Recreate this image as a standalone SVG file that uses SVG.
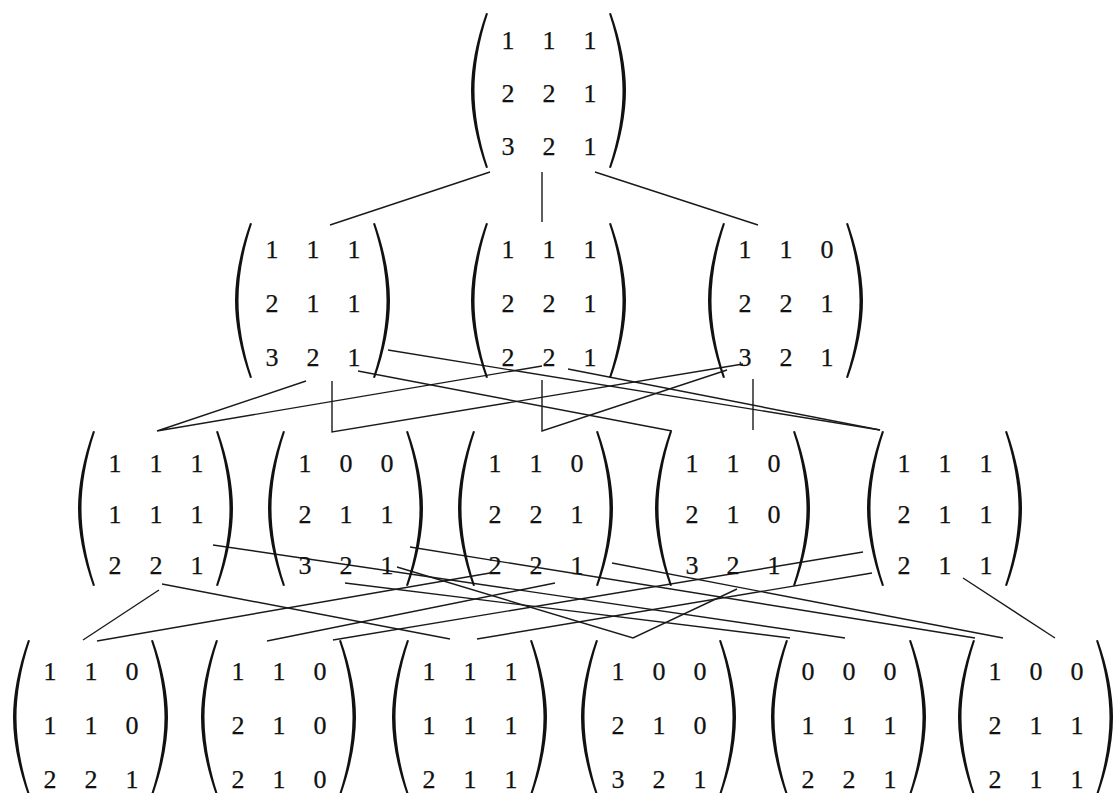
<svg xmlns="http://www.w3.org/2000/svg" width="1115" height="793" viewBox="0 0 1115 793">
<style>
text{font-family:"Liberation Serif","DejaVu Serif",serif;font-size:26px;fill:#111;stroke:#111;stroke-width:0.25;text-anchor:middle}
.par{fill:#111}
#connectors polyline,#connectors line{fill:none;stroke:#1a1a1a;stroke-width:1.4}
</style>
<defs>
<path id="lp" class="par" d="M15,0 C5,28 0,55 0,77.5 C0,100 5,127 15,155 L17,154.6 C7.8,127 3.5,100 3.5,77.5 C3.5,55 7.8,28 17,0.4 Z"/>
<path id="rp" class="par" d="M0,0 C10,28 15,55 15,77.5 C15,100 10,127 0,155 L-2,154.6 C7.2,127 11.5,100 11.5,77.5 C11.5,55 7.2,28 -2,0.4 Z"/>
</defs>
<rect width="1115" height="793" fill="#fff"/>
<g id="connectors">
<line x1="490" y1="172" x2="330" y2="225"/>
<line x1="542" y1="172" x2="542" y2="222"/>
<line x1="595" y1="172" x2="758" y2="225"/>
<polyline points="306,381 157,431 542,366"/>
<polyline points="332,381 332,432 743,364"/>
<polyline points="542,380 542,431 727,370"/>
<line x1="358" y1="371" x2="672" y2="431"/>
<line x1="753" y1="379" x2="753" y2="430"/>
<line x1="388" y1="350" x2="880" y2="430"/>
<line x1="568" y1="369" x2="880" y2="430"/>
<line x1="159" y1="590" x2="83" y2="640"/>
<line x1="97" y1="641" x2="490" y2="573"/>
<line x1="162" y1="584" x2="450" y2="639"/>
<line x1="213" y1="545" x2="845" y2="638"/>
<line x1="267" y1="641" x2="555" y2="583"/>
<line x1="333" y1="640" x2="863" y2="552"/>
<line x1="345" y1="583" x2="790" y2="638"/>
<polyline points="397,567 633,638 737,589"/>
<line x1="410" y1="547" x2="975" y2="638"/>
<line x1="612" y1="563" x2="1003" y2="638"/>
<line x1="477" y1="639" x2="872" y2="573"/>
<line x1="963" y1="578" x2="1055" y2="638"/>
</g>
<g id="m-top">
<use href="#lp" x="471" y="13"/><use href="#rp" x="611" y="13"/>
<text x="508" y="49">1</text><text x="549" y="49">1</text><text x="590" y="49">1</text>
<text x="508" y="102">2</text><text x="549" y="102">2</text><text x="590" y="102">1</text>
<text x="508" y="155">3</text><text x="549" y="155">2</text><text x="590" y="155">1</text>
</g>
<g id="m2a">
<use href="#lp" x="235" y="223"/><use href="#rp" x="375" y="223"/>
<text x="272" y="258">1</text><text x="313" y="258">1</text><text x="354" y="258">1</text>
<text x="272" y="312">2</text><text x="313" y="312">1</text><text x="354" y="312">1</text>
<text x="272" y="366">3</text><text x="313" y="366">2</text><text x="354" y="366">1</text>
</g>
<g id="m2b">
<use href="#lp" x="471" y="223"/><use href="#rp" x="611" y="223"/>
<text x="508" y="258">1</text><text x="549" y="258">1</text><text x="590" y="258">1</text>
<text x="508" y="312">2</text><text x="549" y="312">2</text><text x="590" y="312">1</text>
<text x="508" y="366">2</text><text x="549" y="366">2</text><text x="590" y="366">1</text>
</g>
<g id="m2c">
<use href="#lp" x="708" y="223"/><use href="#rp" x="848" y="223"/>
<text x="745" y="258">1</text><text x="786" y="258">1</text><text x="827" y="258">0</text>
<text x="745" y="312">2</text><text x="786" y="312">2</text><text x="827" y="312">1</text>
<text x="745" y="366">3</text><text x="786" y="366">2</text><text x="827" y="366">1</text>
</g>
<g id="m3a">
<use href="#lp" x="78" y="431"/><use href="#rp" x="218" y="431"/>
<text x="115" y="472">1</text><text x="156" y="472">1</text><text x="197" y="472">1</text>
<text x="115" y="523">1</text><text x="156" y="523">1</text><text x="197" y="523">1</text>
<text x="115" y="574">2</text><text x="156" y="574">2</text><text x="197" y="574">1</text>
</g>
<g id="m3b">
<use href="#lp" x="268" y="431"/><use href="#rp" x="408" y="431"/>
<text x="305" y="472">1</text><text x="346" y="472">0</text><text x="387" y="472">0</text>
<text x="305" y="523">2</text><text x="346" y="523">1</text><text x="387" y="523">1</text>
<text x="305" y="574">3</text><text x="346" y="574">2</text><text x="387" y="574">1</text>
</g>
<g id="m3c">
<use href="#lp" x="458" y="431"/><use href="#rp" x="598" y="431"/>
<text x="495" y="472">1</text><text x="536" y="472">1</text><text x="577" y="472">0</text>
<text x="495" y="523">2</text><text x="536" y="523">2</text><text x="577" y="523">1</text>
<text x="495" y="574">2</text><text x="536" y="574">2</text><text x="577" y="574">1</text>
</g>
<g id="m3d">
<use href="#lp" x="655" y="431"/><use href="#rp" x="795" y="431"/>
<text x="692" y="472">1</text><text x="733" y="472">1</text><text x="774" y="472">0</text>
<text x="692" y="523">2</text><text x="733" y="523">1</text><text x="774" y="523">0</text>
<text x="692" y="574">3</text><text x="733" y="574">2</text><text x="774" y="574">1</text>
</g>
<g id="m3e">
<use href="#lp" x="867" y="431"/><use href="#rp" x="1007" y="431"/>
<text x="904" y="472">1</text><text x="945" y="472">1</text><text x="986" y="472">1</text>
<text x="904" y="523">2</text><text x="945" y="523">1</text><text x="986" y="523">1</text>
<text x="904" y="574">2</text><text x="945" y="574">1</text><text x="986" y="574">1</text>
</g>
<g id="m4a">
<use href="#lp" x="13" y="640"/><use href="#rp" x="153" y="640"/>
<text x="50" y="680">1</text><text x="91" y="680">1</text><text x="132" y="680">0</text>
<text x="50" y="734">1</text><text x="91" y="734">1</text><text x="132" y="734">0</text>
<text x="50" y="788">2</text><text x="91" y="788">2</text><text x="132" y="788">1</text>
</g>
<g id="m4b">
<use href="#lp" x="201" y="640"/><use href="#rp" x="341" y="640"/>
<text x="238" y="680">1</text><text x="279" y="680">1</text><text x="320" y="680">0</text>
<text x="238" y="734">2</text><text x="279" y="734">1</text><text x="320" y="734">0</text>
<text x="238" y="788">2</text><text x="279" y="788">1</text><text x="320" y="788">0</text>
</g>
<g id="m4c">
<use href="#lp" x="392" y="640"/><use href="#rp" x="532" y="640"/>
<text x="429" y="680">1</text><text x="470" y="680">1</text><text x="511" y="680">1</text>
<text x="429" y="734">1</text><text x="470" y="734">1</text><text x="511" y="734">1</text>
<text x="429" y="788">2</text><text x="470" y="788">1</text><text x="511" y="788">1</text>
</g>
<g id="m4d">
<use href="#lp" x="581" y="640"/><use href="#rp" x="721" y="640"/>
<text x="618" y="680">1</text><text x="659" y="680">0</text><text x="700" y="680">0</text>
<text x="618" y="734">2</text><text x="659" y="734">1</text><text x="700" y="734">0</text>
<text x="618" y="788">3</text><text x="659" y="788">2</text><text x="700" y="788">1</text>
</g>
<g id="m4e">
<use href="#lp" x="771" y="640"/><use href="#rp" x="911" y="640"/>
<text x="808" y="680">0</text><text x="849" y="680">0</text><text x="890" y="680">0</text>
<text x="808" y="734">1</text><text x="849" y="734">1</text><text x="890" y="734">1</text>
<text x="808" y="788">2</text><text x="849" y="788">2</text><text x="890" y="788">1</text>
</g>
<g id="m4f">
<use href="#lp" x="958" y="640"/><use href="#rp" x="1098" y="640"/>
<text x="995" y="680">1</text><text x="1036" y="680">0</text><text x="1077" y="680">0</text>
<text x="995" y="734">2</text><text x="1036" y="734">1</text><text x="1077" y="734">1</text>
<text x="995" y="788">2</text><text x="1036" y="788">1</text><text x="1077" y="788">1</text>
</g>
</svg>
